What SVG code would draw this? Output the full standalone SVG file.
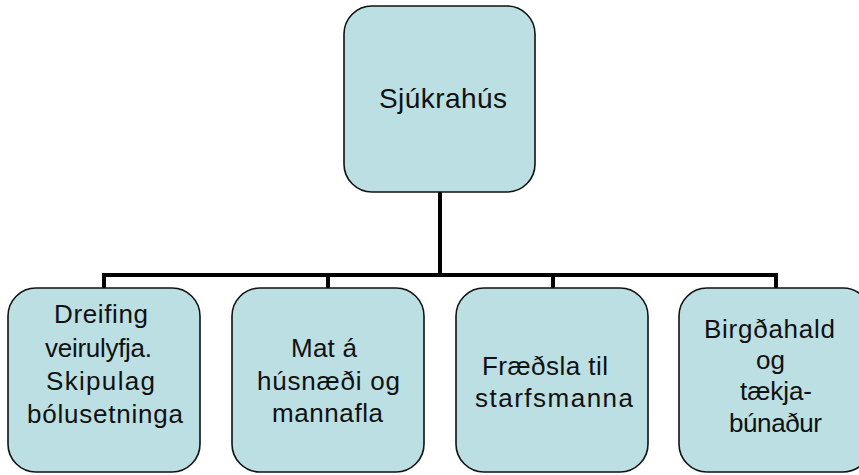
<svg xmlns="http://www.w3.org/2000/svg" width="859" height="475" viewBox="0 0 859 475">
<style>
.box{fill:#bbdfe2;stroke:#111;stroke-width:1.6}
.t{font-family:"Liberation Sans",Arial,sans-serif;font-size:26px;fill:#111}
.top{font-size:28px}
.c{fill:none;stroke:#000;stroke-width:4}
</style>
<rect width="859" height="475" fill="#fff"/>
<g id="connectors">
<path class="c" d="M440 192V275M104 275H777M104 273V288M328 273V288M553 273V288M776 273V288"/>
</g>
<g id="n0">
<rect class="box" x="344" y="6" width="191" height="186" rx="28"/>
<text class="t top" x="379" y="108" textLength="128" lengthAdjust="spacing">Sjúkrahús</text>
</g>
<g id="n1">
<rect class="box" x="8" y="288" width="192" height="184" rx="28"/>
<text class="t" x="54" y="323" textLength="94" lengthAdjust="spacing">Dreifing</text>
<text class="t" x="45" y="357" textLength="107" lengthAdjust="spacing">veirulyfja.</text>
<text class="t" x="46" y="390" textLength="109" lengthAdjust="spacing">Skipulag</text>
<text class="t" x="27" y="423" textLength="156" lengthAdjust="spacing">bólusetninga</text>
</g>
<g id="n2">
<rect class="box" x="232" y="288" width="192" height="184" rx="28"/>
<text class="t" x="291" y="357" textLength="66" lengthAdjust="spacing">Mat á</text>
<text class="t" x="257" y="390" textLength="143" lengthAdjust="spacing">húsnæði og</text>
<text class="t" x="272" y="422" textLength="111" lengthAdjust="spacing">mannafla</text>
</g>
<g id="n3">
<rect class="box" x="456" y="288" width="192" height="184" rx="28"/>
<text class="t" x="482" y="375" textLength="126" lengthAdjust="spacing">Fræðsla til</text>
<text class="t" x="475" y="407" textLength="158" lengthAdjust="spacing">starfsmanna</text>
</g>
<g id="n4">
<rect class="box" x="679" y="288" width="192" height="184" rx="28"/>
<text class="t" x="704" y="338" textLength="131" lengthAdjust="spacing">Birgðahald</text>
<text class="t" x="756" y="369" textLength="29" lengthAdjust="spacing">og</text>
<text class="t" x="740" y="400" textLength="72" lengthAdjust="spacing">tækja-</text>
<text class="t" x="729" y="432" textLength="93" lengthAdjust="spacing">búnaður</text>
</g>
</svg>
